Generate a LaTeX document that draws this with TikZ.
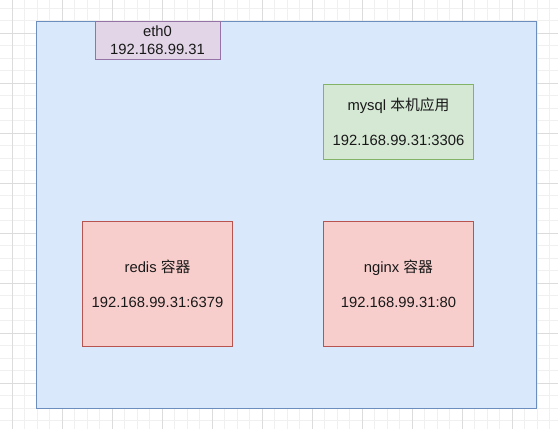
\documentclass[tikz,border=0pt]{standalone}
\usepackage{fontspec}
\setmainfont{Liberation Sans}
\newfontfamily\cjk{Noto Sans CJK SC}
\definecolor{gridminor}{HTML}{F0F0F0}
\definecolor{gridmajor}{HTML}{DCDCDC}
\definecolor{hostfill}{HTML}{DAE8FC}
\definecolor{hostline}{HTML}{6C8EBF}
\definecolor{ethfill}{HTML}{E1D5E7}
\definecolor{ethline}{HTML}{9673A6}
\definecolor{appfill}{HTML}{D5E8D4}
\definecolor{appline}{HTML}{82B366}
\definecolor{boxfill}{HTML}{F8CECC}
\definecolor{boxline}{HTML}{B85450}
\tikzset{
  box/.style={draw, rectangle, line width=.75pt, align=center, inner sep=0pt,
    font=\fontsize{11.1}{13.1}\selectfont, text=black!90},
  hostbox/.style={box, fill=hostfill, draw=hostline, minimum width=375pt, minimum height=290.25pt},
  ethbox/.style={box, fill=ethfill, draw=ethline, minimum width=93.75pt, minimum height=28.5pt},
  appbox/.style={box, fill=appfill, draw=appline, minimum width=112.5pt, minimum height=56.25pt},
  ctrbox/.style={box, fill=boxfill, draw=boxline, minimum width=112.5pt, minimum height=93.75pt}
}
\begin{document}
\begin{tikzpicture}[x=.75pt,y=-.75pt]
    \useasboundingbox (0,0) rectangle (558,429);
    \fill[white] (0,0) rectangle (558,429);
    % grid
    \foreach \i in {0,...,45} \draw[gridminor,line width=.75pt] (-0.5+\i*12.5,0) -- (-0.5+\i*12.5,429);
    \foreach \i in {0,...,35} \draw[gridminor,line width=.75pt] (0,-4.5+\i*12.5) -- (558,-4.5+\i*12.5);
    \foreach \i in {0,...,11} \draw[gridmajor,line width=.75pt] (12+\i*50,0) -- (12+\i*50,429);
    \foreach \i in {0,...,8} \draw[gridmajor,line width=.75pt] (0,33+\i*50) -- (558,33+\i*50);

    \node[hostbox] (host) at (286,214.5) {};
    \node[ethbox] (eth0) at (157.5,40) {eth0\\192.168.99.31};
    \node[appbox] (mysql) at (398.5,121.5) {mysql {\cjk 本机应用}\\[13.1pt]192.168.99.31:3306};
    \node[ctrbox] (redis) at (157.5,283.5) {redis {\cjk 容器}\\[13.1pt]192.168.99.31:6379};
    \node[ctrbox] (nginx) at (398.5,283.5) {nginx {\cjk 容器}\\[13.1pt]192.168.99.31:80};
  \end{tikzpicture}
\end{document}
